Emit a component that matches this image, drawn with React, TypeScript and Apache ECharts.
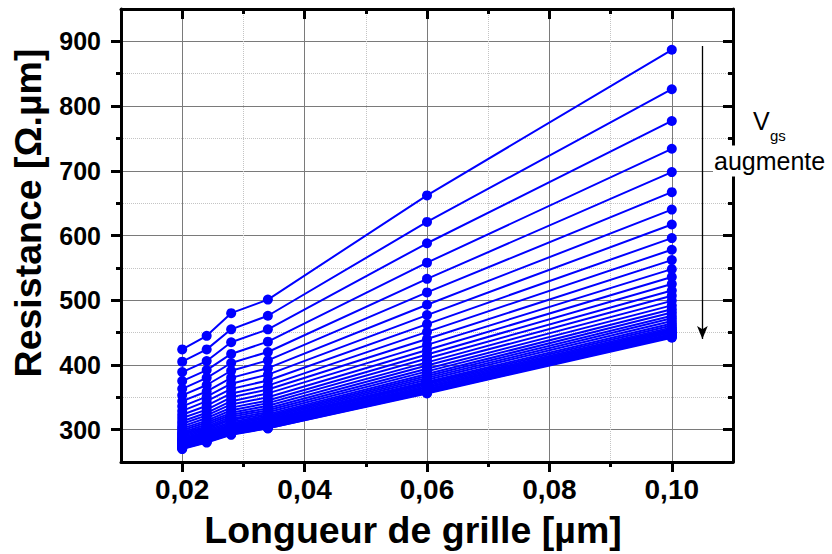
import React, { useEffect, useRef } from 'react';
import * as echarts from 'echarts';

// Gate lengths (µm)
const xValues = [0.02, 0.024, 0.028, 0.034, 0.06, 0.1];

// Resistance (Ω.µm) at each gate length, one entry per Vgs curve (top → bottom)
const r020 = [424, 405, 389, 375, 363, 353, 344, 336, 329, 323, 318, 313, 309, 305, 302, 299, 296, 294, 292, 290, 288, 286, 285, 283, 282, 281, 280, 279, 278, 277, 276, 275, 274, 273, 272, 271, 270];
const r024 = [445, 424, 406, 392, 380, 369, 359, 351, 344, 337, 331, 326, 322, 318, 314, 311, 308, 305, 303, 301, 299, 297, 295, 294, 292, 291, 290, 289, 288, 287, 286, 285, 284, 283, 282, 281, 280];
const r028 = [480, 455, 435, 417, 403, 391, 380, 371, 363, 356, 350, 344, 339, 334, 330, 326, 323, 320, 317, 315, 312, 310, 308, 306, 305, 303, 302, 301, 300, 299, 298, 297, 296, 295, 294, 293, 292];
const r034 = [501, 476, 455, 436, 420, 407, 395, 385, 376, 368, 362, 356, 350, 345, 341, 337, 333, 330, 327, 324, 322, 320, 318, 316, 314, 313, 311, 310, 309, 308, 307, 306, 305, 304, 303, 302, 302];
const r060 = [662, 621, 588, 558, 533, 512, 493, 477, 463, 451, 440, 431, 423, 416, 410, 404, 399, 394, 390, 386, 383, 380, 377, 374, 372, 370, 368, 366, 365, 363, 362, 361, 360, 359, 358, 357, 356];
const r100 = [887, 826, 777, 734, 698, 667, 640, 617, 596, 578, 562, 548, 536, 525, 515, 507, 499, 492, 486, 481, 476, 472, 468, 464, 461, 458, 456, 454, 452, 450, 448, 447, 446, 445, 444, 443, 442];

// Ticks
const xMajorTicks = [0.02, 0.04, 0.06, 0.08, 0.1];
const xMinorTicks = [0.03, 0.05, 0.07, 0.09];
const yMajorTicks = [300, 400, 500, 600, 700, 800, 900];
const yMinorTicks = [350, 450, 550, 650, 750, 850];

// Arrow annotation (data coords)
const arrowX = 0.105;
const arrowTop = 893;
const arrowBottom = 440;

const FONT = '"Liberation Sans", Arial, Helvetica, sans-serif';

export default function App() {
  const ref = useRef<HTMLDivElement>(null);

  useEffect(() => {
    const chart = echarts.init(ref.current as HTMLDivElement, null, { renderer: 'svg' });
    const columns = [r020, r024, r028, r034, r060, r100];
    const n = r020.length;
    const series: any[] = [];
    for (let i = 0; i < n; i++) {
      series.push({
        type: 'line',
        xAxisIndex: 0,
        yAxisIndex: 0,
        data: xValues.map((x, j) => [x, columns[j][i]]),
        symbol: 'circle',
        symbolSize: 10,
        showSymbol: true,
        lineStyle: { color: '#0000ff', width: 2 },
        itemStyle: { color: '#0000ff' },
        z: 3,
        silent: true,
      });
    }
    series[0].markLine = {
      silent: true,
      symbol: ['none', 'arrow'],
      symbolSize: [8, 13],
      label: { show: false },
      lineStyle: { color: '#000', width: 1.3, type: 'solid' },
      data: [[{ coord: [arrowX, arrowTop] }, { coord: [arrowX, arrowBottom] }]],
    };

    const lineBlack = { color: '#000', width: 3 };
    const xBase = { type: 'value', min: 0.01, max: 0.11, interval: 0.01, gridIndex: 0 };
    const yBase = { type: 'value', min: 250, max: 950, interval: 50, gridIndex: 0 };

    const option: any = {
      animation: false,
      backgroundColor: '#fff',
      grid: { left: 121, top: 9, right: 99, bottom: 92, outerBoundsMode: 'none', containLabel: false },
      xAxis: [
        {
          ...xBase,
          position: 'bottom',
          axisLine: { show: true, onZero: false, lineStyle: lineBlack },
          axisTick: { show: true, inside: false, length: 10, customValues: xMajorTicks, lineStyle: lineBlack },
          axisLabel: {
            show: true,
            customValues: xMajorTicks,
            formatter: (v: number) => v.toFixed(2).replace('.', ','),
            margin: 13,
            fontSize: 28,
            fontWeight: 'bold',
            fontFamily: FONT,
            color: '#000',
          },
          splitLine: { show: true, lineStyle: { color: '#7a7a7a', width: 1, type: 'solid' } },
        },
        {
          ...xBase,
          position: 'bottom',
          axisLine: { show: false, onZero: false },
          axisTick: { show: true, inside: false, length: 5, customValues: xMinorTicks, lineStyle: lineBlack },
          axisLabel: { show: false },
          splitLine: { show: true, lineStyle: { color: '#c4c4c4', width: 1, type: 'dotted' } },
        },
        {
          ...xBase,
          position: 'top',
          axisLine: { show: true, onZero: false, lineStyle: lineBlack },
          axisTick: { show: true, inside: true, length: 10, customValues: xMajorTicks, lineStyle: lineBlack },
          axisLabel: { show: false },
          splitLine: { show: false },
        },
        {
          ...xBase,
          position: 'top',
          axisLine: { show: false, onZero: false },
          axisTick: { show: true, inside: true, length: 5, customValues: xMinorTicks, lineStyle: lineBlack },
          axisLabel: { show: false },
          splitLine: { show: false },
        },
      ],
      yAxis: [
        {
          ...yBase,
          position: 'left',
          axisLine: { show: true, onZero: false, lineStyle: lineBlack },
          axisTick: { show: true, inside: false, length: 10, customValues: yMajorTicks, lineStyle: lineBlack },
          axisLabel: {
            show: true,
            customValues: yMajorTicks,
            formatter: (v: number) => String(v),
            margin: 20,
            fontSize: 25,
            fontWeight: 'bold',
            fontFamily: FONT,
            color: '#000',
          },
          splitLine: { show: true, lineStyle: { color: '#7a7a7a', width: 1, type: 'solid' } },
        },
        {
          ...yBase,
          position: 'left',
          axisLine: { show: false, onZero: false },
          axisTick: { show: true, inside: false, length: 5, customValues: yMinorTicks, lineStyle: lineBlack },
          axisLabel: { show: false },
          splitLine: { show: true, lineStyle: { color: '#c4c4c4', width: 1, type: 'dotted' } },
        },
        {
          ...yBase,
          position: 'right',
          axisLine: { show: true, onZero: false, lineStyle: lineBlack },
          axisTick: { show: true, inside: true, length: 10, customValues: yMajorTicks, lineStyle: lineBlack },
          axisLabel: { show: false },
          splitLine: { show: false },
        },
        {
          ...yBase,
          position: 'right',
          axisLine: { show: false, onZero: false },
          axisTick: { show: true, inside: true, length: 5, customValues: yMinorTicks, lineStyle: lineBlack },
          axisLabel: { show: false },
          splitLine: { show: false },
        },
      ],
      series,
      graphic: [
        {
          type: 'text',
          x: 28,
          y: 213,
          rotation: Math.PI / 2,
          z: 100,
          style: {
            text: 'Resistance [Ω.µm]',
            fontSize: 37.5,
            fontWeight: 'bold',
            fontFamily: FONT,
            fill: '#000',
            align: 'center',
            verticalAlign: 'middle',
          },
        },
        {
          type: 'text',
          x: 413,
          y: 530,
          z: 100,
          style: {
            text: 'Longueur de grille [µm]',
            fontSize: 37.5,
            fontWeight: 'bold',
            fontFamily: FONT,
            fill: '#000',
            align: 'center',
            verticalAlign: 'middle',
          },
        },
        {
          type: 'text',
          x: 753,
          y: 121,
          z: 100,
          style: { text: 'V', fontSize: 25, fontFamily: FONT, fill: '#000', align: 'left', verticalAlign: 'middle' },
        },
        {
          type: 'text',
          x: 770,
          y: 135,
          z: 100,
          style: { text: 'gs', fontSize: 15, fontFamily: FONT, fill: '#000', align: 'left', verticalAlign: 'middle' },
        },
        {
          type: 'text',
          x: 713,
          y: 161,
          z: 100,
          style: {
            text: 'augmente',
            fontSize: 25,
            fontFamily: FONT,
            fill: '#000',
            align: 'left',
            verticalAlign: 'middle',
            backgroundColor: '#fff',
            padding: [3, 6, 3, 1],
          },
        },
      ],
    };

    chart.setOption(option);
    return () => {
      chart.dispose();
    };
  }, []);

  return (
    <div
      ref={ref}
      style={{ position: 'absolute', left: 0, top: 0, width: 832, height: 554, background: '#fff' }}
    />
  );
}
